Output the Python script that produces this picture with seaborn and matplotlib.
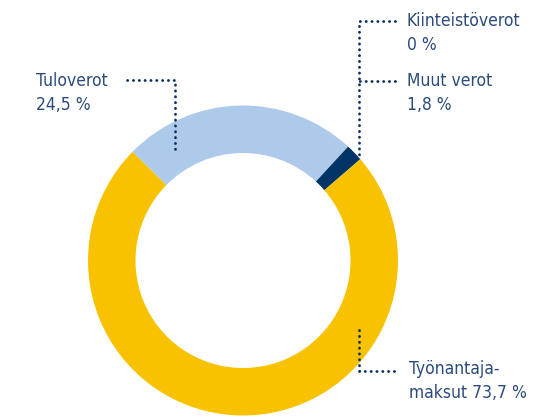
import matplotlib
matplotlib.use("Agg")
import matplotlib.pyplot as plt
import seaborn as sns

# -------------------------------
# Data
# -------------------------------
categories = ["Tuloverot", "Muut verot", "Kiinteistöverot", "Työnantajamaksut"]
shares = [24.5, 1.8, 0.0, 73.7]
label_names = ["Tuloverot", "Muut verot", "Kiinteistöverot", "Työnantaja-\nmaksut"]
colors = ["#adcaea", "#003466", "#003466", "#f8c200"]

TEXT_COLOR = "#2b4b7b"
LINE_COLOR = "#0b305f"

sns.set_theme(style="white")
plt.rcParams["font.family"] = ["DejaVu Sans"]
plt.rcParams["font.stretch"] = "condensed"

W, H = 554, 417
fig = plt.figure(figsize=(W / 100, H / 100), dpi=100)
ax = fig.add_axes([0, 0, 1, 1])

# ----------------------------------
# Donut
# ----------------------------------
cx, cy, r = 243, H - 260.5, 155
ax.pie(shares, colors=colors, startangle=135.5, counterclock=False,
       center=(cx, cy), radius=r,
       wedgeprops=dict(width=47.5, linewidth=0))

ax.set_xlim(0, W)
ax.set_ylim(0, H)
ax.set_aspect("equal")
ax.axis("off")

# ----------------------------------
# Leader lines (image pixel coords, y down)
# ----------------------------------
leaders = {
    "Tuloverot": [(127, 80), (175, 80), (175, 149)],
    "Muut verot": [(395, 81), (359, 81)],
    "Kiinteistöverot": [(395, 21), (359, 21), (359, 156)],
    "Työnantajamaksut": [(359, 330), (359, 371), (398, 371)],
}
for pts in leaders.values():
    xs = [p[0] for p in pts]
    ys = [H - p[1] for p in pts]
    ax.plot(xs, ys, color=LINE_COLOR, lw=2.0, linestyle=(0, (0.1, 2.0)),
            dash_capstyle="round", solid_capstyle="round")

# ----------------------------------
# Labels (baseline of the last line)
# ----------------------------------
label_pos = {
    "Tuloverot": (36, 110),
    "Muut verot": (407, 110),
    "Kiinteistöverot": (407, 50),
    "Työnantajamaksut": (409, 398),
}
for cat, name, val in zip(categories, label_names, shares):
    x, y = label_pos[cat]
    val_txt = f"{val:g}".replace(".", ",") + " %"
    sep = " " if name.endswith("maksut") else "\n"
    text = name + sep + val_txt
    ax.text(x, H - y, text, ha="left", va="baseline", fontsize=12.5,
            color=TEXT_COLOR, linespacing=1.45)

fig.savefig("out.png", dpi=100)
